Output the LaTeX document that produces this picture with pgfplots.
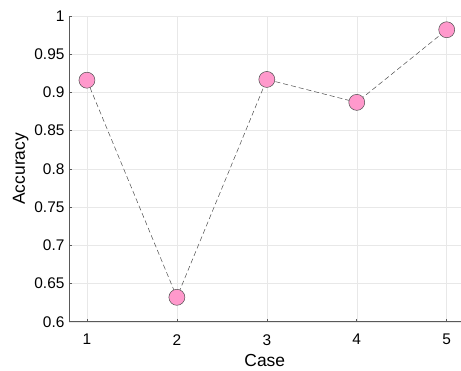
\documentclass[border=0pt]{standalone}
\usepackage{pgfplots}
\pgfplotsset{compat=1.18}
\usepackage{fontspec}
\setmainfont{Liberation Sans}
\definecolor{mpink}{RGB}{255,153,204}
\definecolor{gridc}{RGB}{232,232,232}
\begin{document}
\begin{tikzpicture}
\begin{axis}[
  at={(0,0)}, anchor=south west,
  scale only axis, width=392bp, height=306bp,
  xmin=0.8, xmax=5.155, ymin=0.6, ymax=1,
  axis x line*=bottom, axis y line*=left,
  axis line style={draw=black!65, line width=0.7pt},
  xtick={1,2,3,4,5},
  ytick={0.6,0.65,0.7,0.75,0.8,0.85,0.9,0.95,1},
  yticklabels={0.6,0.65,0.7,0.75,0.8,0.85,0.9,0.95,1},
  tick align=inside, major tick length=3bp,
  tick style={draw=black!65, line width=0.6pt},
  grid=major, major grid style={draw=gridc, line width=0.5pt},
  ticklabel style={font=\fontsize{15.5}{16}\selectfont},
  xticklabel style={yshift=-9bp},
  yticklabel style={xshift=-1bp},
  label style={font=\fontsize{17.5}{18}\selectfont},
  xlabel={Case}, ylabel={Accuracy},
  xlabel style={yshift=-2bp},
  ylabel style={yshift=-1bp},
  /pgf/number format/assume math mode=true,
  clip=false,
]
\addplot[draw=black!70, dashed, dash pattern=on 5bp off 3bp, line width=0.5pt,
  mark=*, mark size=8bp, mark options={solid, fill=mpink, draw=black!70, line width=0.5pt}]
  coordinates {(1,0.916) (2,0.632) (3,0.917) (4,0.887) (5,0.982)};
\end{axis}
\useasboundingbox (-69bp,-49bp) rectangle (392bp,322bp);
\end{tikzpicture}
\end{document}
